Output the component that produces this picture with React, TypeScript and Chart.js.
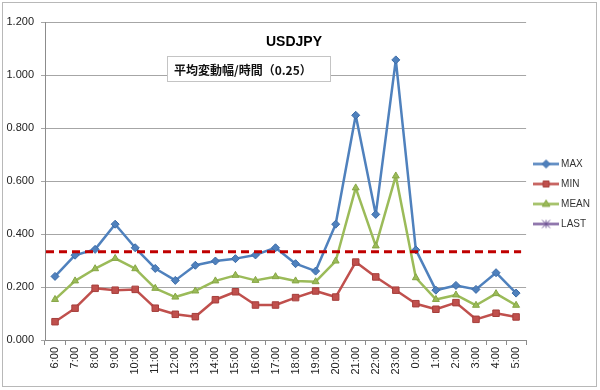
import React, { useEffect, useRef } from 'react';
import { Chart, registerables } from 'chart.js';

Chart.register(...registerables);

const hours = ['6:00', '7:00', '8:00', '9:00', '10:00', '11:00', '12:00', '13:00', '14:00', '15:00', '16:00', '17:00', '18:00', '19:00', '20:00', '21:00', '22:00', '23:00', '0:00', '1:00', '2:00', '3:00', '4:00', '5:00'];
const maxValues = [0.24, 0.32, 0.342, 0.437, 0.348, 0.27, 0.225, 0.282, 0.298, 0.307, 0.321, 0.348, 0.288, 0.26, 0.437, 0.848, 0.474, 1.057, 0.34, 0.188, 0.206, 0.191, 0.254, 0.177];
const minValues = [0.069, 0.12, 0.195, 0.188, 0.191, 0.12, 0.097, 0.088, 0.152, 0.182, 0.132, 0.132, 0.16, 0.185, 0.162, 0.294, 0.238, 0.188, 0.137, 0.116, 0.141, 0.078, 0.101, 0.087];
const meanValues = [0.153, 0.223, 0.269, 0.308, 0.269, 0.195, 0.162, 0.185, 0.223, 0.244, 0.225, 0.239, 0.223, 0.22, 0.298, 0.574, 0.355, 0.619, 0.235, 0.153, 0.17, 0.131, 0.175, 0.131];
const lastValues: (number | null)[] = [];
const seriesNames = ['MAX', 'MIN', 'MEAN', 'LAST'];
const averageLevel = 0.333;
const chartTitle = 'USDJPY';
const noteText = '平均変動幅/時間（0.25）';

const COLORS = ['#4F81BD', '#C0504D', '#9BBB59', '#8064A2'];
const BORDERS = ['#3C6CA8', '#A53E3B', '#86A645', '#6B5190'];
const STYLES = ['rectRot', 'rect', 'triangle', 'crossRot'];

function drawMarker(ctx: CanvasRenderingContext2D, style: string, x: number, y: number, r: number) {
  ctx.beginPath();
  if (style === 'rectRot') {
    ctx.moveTo(x, y - r); ctx.lineTo(x + r, y); ctx.lineTo(x, y + r); ctx.lineTo(x - r, y); ctx.closePath();
    ctx.fill(); ctx.stroke();
  } else if (style === 'rect') {
    const s = r * 0.75;
    ctx.rect(x - s, y - s, 2 * s, 2 * s);
    ctx.fill(); ctx.stroke();
  } else if (style === 'triangle') {
    ctx.moveTo(x, y - r); ctx.lineTo(x + r * 0.95, y + r * 0.6); ctx.lineTo(x - r * 0.95, y + r * 0.6); ctx.closePath();
    ctx.fill(); ctx.stroke();
  } else {
    ctx.moveTo(x - r, y - r); ctx.lineTo(x + r, y + r);
    ctx.moveTo(x + r, y - r); ctx.lineTo(x - r, y + r);
    ctx.moveTo(x, y - r); ctx.lineTo(x, y + r);
    ctx.stroke();
  }
}

function makeIcon(i: number): HTMLCanvasElement {
  const c = document.createElement('canvas');
  c.width = 26; c.height = 11;
  const ctx = c.getContext('2d')!;
  ctx.strokeStyle = COLORS[i];
  ctx.lineWidth = 2.5;
  ctx.beginPath(); ctx.moveTo(0, 5.5); ctx.lineTo(26, 5.5); ctx.stroke();
  ctx.fillStyle = COLORS[i];
  ctx.strokeStyle = BORDERS[i];
  ctx.lineWidth = 1;
  drawMarker(ctx, STYLES[i], 13, 5.5, 4);
  return c;
}

const decorPlugin = {
  id: 'decor',
  beforeDraw(chart: any) {
    const ctx = chart.ctx;
    ctx.save();
    ctx.fillStyle = '#ffffff';
    ctx.fillRect(0, 0, chart.width, chart.height);
    ctx.strokeStyle = '#b8b8b8';
    ctx.lineWidth = 1;
    ctx.strokeRect(2.5, 2.5, 594, 384);
    ctx.restore();
  },
  afterDatasetsDraw(chart: any) {
    const ctx = chart.ctx;
    const { left, right } = chart.chartArea;
    const y = chart.scales.y.getPixelForValue(averageLevel);
    ctx.save();
    ctx.strokeStyle = '#C00000';
    ctx.lineWidth = 3;
    ctx.setLineDash([8, 5]);
    ctx.beginPath();
    ctx.moveTo(left + 1, y);
    ctx.lineTo(right - 5, y);
    ctx.stroke();
    ctx.restore();
  },
  afterDraw(chart: any) {
    const ctx = chart.ctx;
    ctx.save();
    ctx.fillStyle = '#000000';
    ctx.font = 'bold 14px "Liberation Sans", Arial, sans-serif';
    ctx.textAlign = 'center';
    ctx.textBaseline = 'middle';
    ctx.fillText(chartTitle, 294, 42);
    ctx.fillStyle = '#ffffff';
    ctx.fillRect(167, 56, 164, 26);
    ctx.strokeStyle = '#c4c4c4';
    ctx.lineWidth = 1;
    ctx.strokeRect(167.5, 56.5, 163, 25);
    ctx.fillStyle = '#111111';
    ctx.font = 'bold 12px "Noto Sans CJK JP", sans-serif';
    ctx.textAlign = 'left';
    ctx.fillText(noteText, 174, 70);
    ctx.restore();
  },
};

export default function App() {
  const ref = useRef<HTMLCanvasElement | null>(null);
  useEffect(() => {
    document.body.style.margin = '0';
    const icons = [0, 1, 2, 3].map(makeIcon);
    const allData = [maxValues, minValues, meanValues, lastValues];
    const chart = new Chart(ref.current!, {
      type: 'line',
      data: {
        labels: hours,
        datasets: allData.map((d, i) => ({
          label: seriesNames[i],
          data: d,
          borderColor: COLORS[i],
          backgroundColor: COLORS[i],
          pointBackgroundColor: COLORS[i],
          pointBorderColor: BORDERS[i],
          pointBorderWidth: 1,
          pointStyle: STYLES[i] as any,
          pointRadius: i === 1 ? 4.6 : 4,
          borderWidth: 2.5,
          borderJoinStyle: 'round' as any,
          tension: 0,
          fill: false,
        })),
      },
      options: {
        responsive: false,
        animation: false,
        layout: { padding: { top: 22, right: 0, bottom: 0, left: 0 } },
        plugins: {
          title: { display: false },
          tooltip: { enabled: false },
          legend: {
            position: 'right',
            fullSize: false,
            maxWidth: 75,
            title: { display: true, text: '', font: { size: 10 }, padding: { top: 14, bottom: 0 } },
            labels: {
              usePointStyle: true,
              pointStyleWidth: 20,
              padding: 10,
              color: '#333333',
              font: { family: '"Liberation Sans", Arial, sans-serif', size: 10 },
              generateLabels: (c: any) => {
                const items = Chart.defaults.plugins.legend.labels.generateLabels(c);
                return items.map((it: any, i: number) => ({ ...it, pointStyle: icons[i], lineWidth: 0 }));
              },
            },
          },
        },
        scales: {
          x: {
            type: 'category',
            offset: true,
            grid: { display: true, drawOnChartArea: false, drawTicks: true, tickLength: 5, color: '#8c8c8c', offset: true },
            border: { display: true, color: '#8c8c8c' },
            ticks: {
              minRotation: 90,
              maxRotation: 90,
              autoSkip: false,
              padding: 2,
              color: '#222222',
              font: { family: '"Liberation Sans", Arial, sans-serif', size: 11 },
            },
            afterFit: (s: any) => { s.height = 50; },
          },
          y: {
            min: 0,
            max: 1.2,
            ticks: {
              stepSize: 0.2,
              padding: 7,
              color: '#222222',
              font: { family: '"Liberation Sans", Arial, sans-serif', size: 11 },
              callback: (v: any) => Number(v).toFixed(3),
            },
            grid: { color: '#a6a6a6', lineWidth: 1, tickLength: 4 },
            border: { display: true, color: '#8c8c8c' },
            afterFit: (s: any) => { s.width = 45; },
          },
        },
      },
      plugins: [decorPlugin],
    });
    return () => chart.destroy();
  }, []);
  return (
    <div style={{ position: 'absolute', left: 0, top: 0, width: 600, height: 390 }}>
      <canvas ref={ref} width={600} height={390} style={{ display: 'block' }} />
    </div>
  );
}
